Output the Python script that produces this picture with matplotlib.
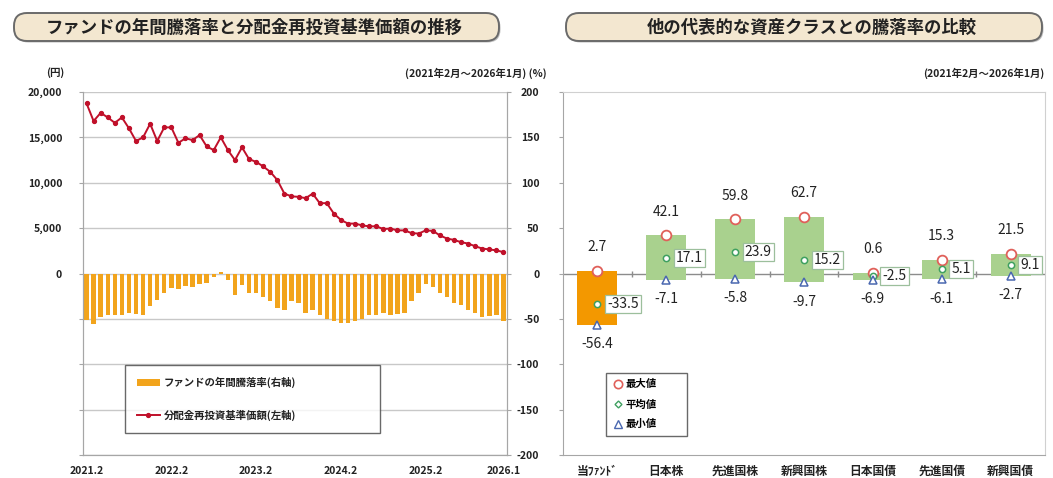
import matplotlib
matplotlib.use("Agg")
import matplotlib.pyplot as plt
import numpy as np
from matplotlib.patches import FancyBboxPatch, Patch
from matplotlib.lines import Line2D

plt.rcParams['font.family'] = ['Noto Sans CJK JP', 'DejaVu Sans']

# ---------------- data ----------------
# Left chart: monthly, 2021.2 - 2026.1 (60 months)
nav_values = [18750, 16800, 17700, 17200, 16600, 17200, 16000, 14600, 15000, 16500,
              14600, 16100, 16100, 14400, 14900, 14700, 15250, 14000, 13600, 15000,
              13600, 12500, 13900, 12600, 12300, 11800, 11200, 10300, 8800, 8500,
              8450, 8300, 8800, 7750, 7750, 6600, 5900, 5500, 5500, 5300,
              5200, 5200, 4900, 4950, 4750, 4750, 4450, 4400, 4750, 4700,
              4200, 3850, 3700, 3450, 3300, 3000, 2750, 2650, 2550, 2350]
annual_returns = [-51, -56, -48, -46, -46, -46, -44, -45, -46, -36,
                  -29, -22, -16, -17, -14, -15, -12, -10, -4, 1.5,
                  -7, -24, -13, -22, -22, -26, -30, -38, -40, -30,
                  -33, -44, -40, -46, -50, -52, -54, -55, -52, -50,
                  -46, -46, -44, -46, -45, -44, -30, -22, -12, -15,
                  -21, -26, -32, -35, -40, -44, -48, -47, -46, -52]
xtick_index = [0, 12, 24, 36, 48, 59]
xtick_labels = ["2021.2", "2022.2", "2023.2", "2024.2", "2025.2", "2026.1"]
yen_ticks = [0, 5000, 10000, 15000, 20000]
yen_tick_labels = ["0", "5,000", "10,000", "15,000", "20,000"]
pct_ticks = [200, 150, 100, 50, 0, -50, -100, -150, -200]

# Right chart
categories = ["当ﾌｧﾝﾄﾞ", "日本株", "先進国株", "新興国株", "日本国債", "先進国債", "新興国債"]
max_vals = [2.7, 42.1, 59.8, 62.7, 0.6, 15.3, 21.5]
avg_vals = [-33.5, 17.1, 23.9, 15.2, -2.5, 5.1, 9.1]
min_vals = [-56.4, -7.1, -5.8, -9.7, -6.9, -6.1, -2.7]

# ---------------- figure ----------------
W, H = 1053, 478
fig = plt.figure(figsize=(W / 100, H / 100), dpi=100)

def fx(px):
    return px / W

def fy(py):
    return 1 - py / H

GRID = '#c8c8c8'
SPINE = '#a6a6a6'
TXT = '#222222'
BAR_ORANGE = '#F2A41C'
FUND_ORANGE = '#F39800'
GREEN = '#A9D18E'
LINE_RED = '#C0102A'

# ---- left chart ----
axL = fig.add_axes([fx(83), fy(455), fx(507) - fx(83), fy(92) - fy(455)])
axR = axL.twinx()
x = np.arange(len(nav_values))

axR.bar(x, annual_returns, width=0.62, color=BAR_ORANGE, zorder=2)
axR.set_ylim(-200, 200)
axR.set_yticks(pct_ticks)
axR.set_yticklabels([])
axR.tick_params(axis='y', length=3, color=SPINE)
axR.grid(axis='y', color=GRID, lw=1.0, zorder=0)
axR.set_axisbelow(True)

axL.plot(x, nav_values, color=LINE_RED, lw=1.4, marker='o', ms=2.8, zorder=5)
axL.set_ylim(-20000, 20000)
axL.set_yticks(list(range(-20000, 20001, 5000)))
axL.set_yticklabels(["" if v < 0 else yen_tick_labels[yen_ticks.index(v)] for v in range(-20000, 20001, 5000)],
                    fontweight='bold')
axL.tick_params(axis='y', length=3, color=SPINE, labelsize=7.5, labelcolor=TXT, pad=12)
axL.set_xlim(-0.5, len(nav_values) - 0.5)
axL.set_xticks(xtick_index)
axL.set_xticklabels(xtick_labels, fontweight='bold')
axL.tick_params(axis='x', length=0, labelsize=7.5, labelcolor=TXT, pad=8)
axL.set_zorder(axR.get_zorder() + 1)
axL.patch.set_visible(False)
for a in (axL, axR):
    for s in a.spines.values():
        s.set_color(SPINE)
    a.spines['top'].set_visible(False)

leg = axL.legend(handles=[Patch(facecolor=BAR_ORANGE, edgecolor='none'),
                          Line2D([], [], color=LINE_RED, lw=1.4, marker='o', ms=2.8)],
                 labels=["ファンドの年間騰落率(右軸)", "分配金再投資基準価額(左軸)"],
                 loc='upper left', mode='expand',
                 bbox_to_anchor=(fx(120), fy(435), fx(385) - fx(120), fy(360) - fy(435)),
                 bbox_transform=fig.transFigure, fontsize=7.5, frameon=True,
                 fancybox=False, edgecolor='#444444', labelspacing=2.1,
                 borderpad=1.1, handlelength=2.2, handletextpad=0.4)
leg.get_frame().set_linewidth(1.0)
for t in leg.get_texts():
    t.set_color(TXT)
    t.set_fontweight('bold')

# ---- right chart ----
ax2 = fig.add_axes([fx(563), fy(455), fx(1045) - fx(563), fy(92) - fy(455)])
xc = np.arange(len(categories))
heights = [mx - mn for mx, mn in zip(max_vals, min_vals)]
colors = [FUND_ORANGE] + [GREEN] * (len(categories) - 1)
ax2.bar(xc, heights, bottom=min_vals, width=0.58, color=colors, zorder=2)
ax2.axhline(0, color='#8c8c8c', lw=1.0, zorder=1)
ax2.plot(np.arange(len(categories) - 1) + 0.5, [0] * (len(categories) - 1), ls='none',
         marker='|', ms=5, color='#8c8c8c', zorder=1)
ax2.plot(xc, max_vals, ls='none', marker='o', ms=7, mfc='white', mec='#E0605A', mew=1.3, zorder=4)
ax2.plot(xc, avg_vals, ls='none', marker='o', ms=4.5, mfc='white', mec='#3FA060', mew=1.1, zorder=4)
ax2.plot(xc, min_vals, ls='none', marker='^', ms=6, mfc='white', mec='#4A68B0', mew=1.1, zorder=4)
for i in range(len(categories)):
    ax2.annotate(f"{max_vals[i]:.1f}", (xc[i], max_vals[i]), xytext=(0, 12),
                 textcoords='offset points', ha='center', va='bottom', fontsize=10, color=TXT, zorder=6)
    ax2.annotate(f"{avg_vals[i]:.1f}", (xc[i], avg_vals[i]), xytext=(7, 0),
                 textcoords='offset points', ha='left', va='center', fontsize=10, color=TXT, zorder=6,
                 bbox=dict(boxstyle='square,pad=0.15', fc='white', ec='#9cbf9c', lw=0.9))
    ax2.annotate(f"{min_vals[i]:.1f}", (xc[i], min_vals[i]), xytext=(0, -9),
                 textcoords='offset points', ha='center', va='top', fontsize=10, color=TXT, zorder=6)
ax2.set_xlim(-0.5, len(categories) - 0.5)
ax2.set_ylim(-200, 200)
ax2.set_yticks(pct_ticks)
ax2.set_yticklabels([str(v) for v in pct_ticks], fontweight='bold')
ax2.tick_params(axis='y', length=3, color=SPINE, labelsize=7.5, labelcolor=TXT, pad=14)
ax2.set_xticks(xc)
ax2.set_xticklabels(categories, fontweight='bold')
ax2.tick_params(axis='x', length=0, labelsize=8.5, labelcolor=TXT, pad=7)
for s in ax2.spines.values():
    s.set_color('#d0d0d0')
ax2.spines['left'].set_color(SPINE)
ax2.spines['bottom'].set_color(SPINE)

leg2 = ax2.legend(handles=[Line2D([], [], ls='none', marker='o', ms=6, mfc='white', mec='#E0605A', mew=1.2),
                           Line2D([], [], ls='none', marker='D', ms=3.5, mfc='white', mec='#3FA060', mew=1.0),
                           Line2D([], [], ls='none', marker='^', ms=5.5, mfc='white', mec='#4A68B0', mew=1.0)],
                  labels=["最大値", "平均値", "最小値"], loc='upper left', mode='expand',
                  bbox_to_anchor=(fx(601), fy(435), fx(692) - fx(601), fy(368) - fy(435)),
                  bbox_transform=fig.transFigure, fontsize=7.5, frameon=True, fancybox=False,
                  edgecolor='#444444', labelspacing=0.95, borderpad=0.6, handlelength=1.0,
                  handletextpad=0.3)
leg2.get_frame().set_linewidth(1.0)
for t in leg2.get_texts():
    t.set_fontweight('bold')

# ---- overlay for title boxes and notes (pixel coords) ----
ov = fig.add_axes([0, 0, 1, 1], zorder=-5)
ov.set_xlim(0, W)
ov.set_ylim(H, 0)
ov.axis('off')
for (bx, bw, cx, title) in [(14, 485, 254, "ファンドの年間騰落率と分配金再投資基準価額の推移"),
                            (566, 476, 812, "他の代表的な資産クラスとの騰落率の比較")]:
    ov.add_patch(FancyBboxPatch((bx + 1.5, 14.5), bw, 28, boxstyle="round,pad=0,rounding_size=13",
                                fc='#bdbdbd', ec='none'))
    ov.add_patch(FancyBboxPatch((bx, 13), bw, 28, boxstyle="round,pad=0,rounding_size=13",
                                fc='#F3E7D0', ec='#6a6a6a', lw=1.4))
    ov.text(cx, 27.5, title, ha='center', va='center', fontsize=12.5, fontweight='bold', color=TXT)

ov.text(55, 73, "(円)", ha='center', va='center', fontsize=7.5, fontweight='bold', color=TXT)
ov.text(547, 73, "(2021年2月～2026年1月) (%)", ha='right', va='center', fontsize=7.5,
        fontweight='bold', color=TXT)
ov.text(1044, 73, "(2021年2月～2026年1月)", ha='right', va='center', fontsize=7.5,
        fontweight='bold', color=TXT)

fig.savefig("out.png", dpi=100, facecolor='white')
